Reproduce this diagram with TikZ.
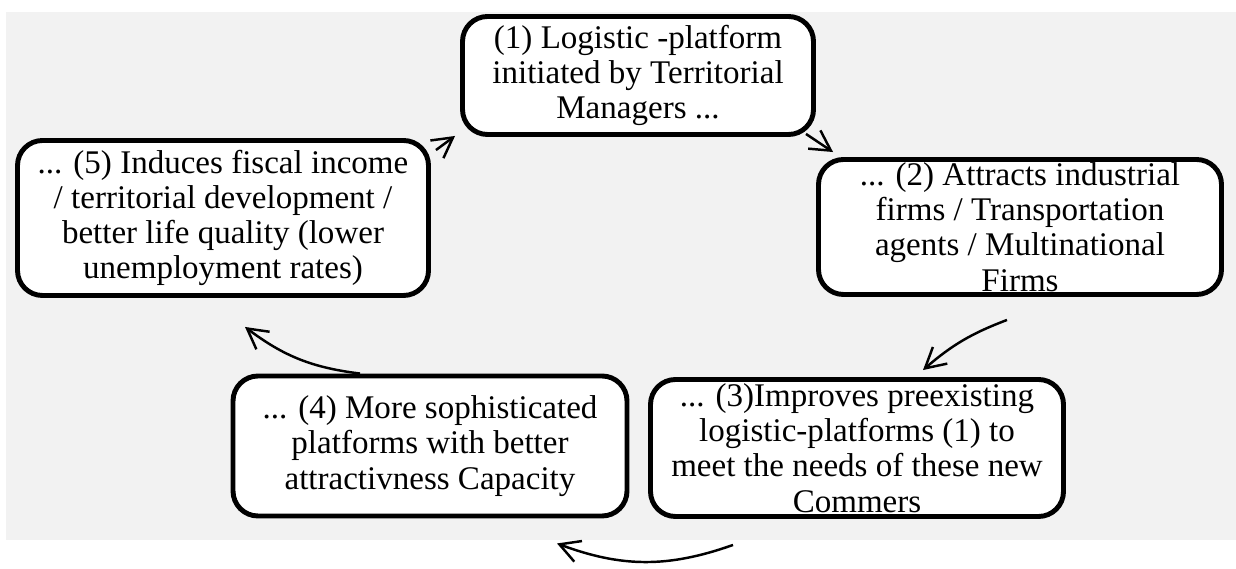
\documentclass[tikz,border=0pt]{standalone}
\usepackage{fontspec}
\setmainfont{Liberation Serif}
\usepackage{tikz}
\usepackage{xcolor}
\usetikzlibrary{arrows.meta}
\definecolor{cyclegray}{RGB}{242,242,242}

\begin{document}
\begin{tikzpicture}[>={Straight Barb[length=2mm,width=2.2mm]},
  every node/.style={font=\fontsize{9.4}{10}\selectfont},
  stage/.style={draw,line width=1.4pt,rounded corners=0.25cm,fill=white,align=center,inner sep=0pt},
  flow/.style={->,line width=0.7pt}]
\useasboundingbox (0,0) rectangle (12.36,5.69);
\fill[white] (0,0) rectangle (12.36,5.69);
\fill[cyclegray] (0.06,0.29) rectangle (12.36,5.57);
% the five stages of the cycle
\node[stage,minimum width=3.51cm,minimum height=1.18cm] (n1) at (6.38,4.935) {(1) Logistic -platform\\ initiated by Territorial\\ Managers ...};
\node[stage,minimum width=4.03cm,minimum height=1.35cm] (n2) at (10.20,3.42) {... (2) Attracts industrial\\ firms / Transportation\\ agents / Multinational\\ Firms};
\node[stage,minimum width=4.13cm,minimum height=1.37cm] (n3) at (8.57,1.21) {... (3)Improves preexisting\\ logistic-platforms (1) to\\ meet the needs of these new\\ Commers};
\node[stage,minimum width=3.94cm,minimum height=1.40cm] (n4) at (4.30,1.23) {... (4) More sophisticated\\ platforms with better\\ attractivness Capacity};
\node[stage,minimum width=4.11cm,minimum height=1.55cm] (n5) at (2.23,3.51) {... (5) Induces fiscal income\\ / territorial development /\\ better life quality (lower\\ unemployment rates)};
% arrows between stages
\draw[flow] ([shift={(0.05,-0.12)}]n5.north east) -- ([shift={(-0.05,0.01)}]n1.south west);
\draw[flow] ([shift={(-0.1,0.03)}]n1.south east) -- ([shift={(0.17,0.05)}]n2.north west);
\draw[flow] ([shift={(-0.13,-0.23)}]n2.south) to[bend right=10] ([shift={(0.66,0.07)}]n3.north);
\draw[flow] ([shift={(-1.24,-0.26)}]n3.south) to[bend left=20] ([shift={(1.27,-0.25)}]n4.south);
\draw[flow] ([shift={(-0.70,0)}]n4.north) to[bend left=15] ([shift={(0.22,-0.29)}]n5.south);
\end{tikzpicture}
\end{document}
